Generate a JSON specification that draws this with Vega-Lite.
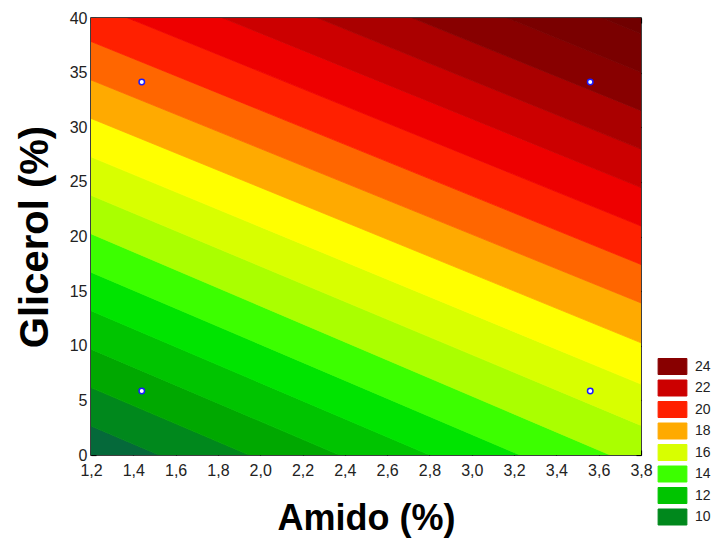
{
  "$schema": "https://vega.github.io/schema/vega-lite/v6.json",
  "width": 550,
  "height": 437,
  "autosize": {"type": "none"},
  "padding": {"left": 91, "top": 18, "right": 77, "bottom": 86},
  "background": "white",
  "config": {
    "view": {"stroke": "#000", "strokeWidth": 1.5},
    "font": "Liberation Sans",
    "axis": {
      "grid": false,
      "domain": false,
      "tickColor": "#000",
      "tickSize": -5,
      "tickWidth": 1.2,
      "labelFont": "Liberation Sans",
      "labelFontSize": 16,
      "labelColor": "#222",
      "titleFont": "Liberation Sans",
      "titleFontWeight": "bold",
      "titleColor": "#000"
    }
  },
  "datasets": {
    "bands": [
      {"level": 9, "x": 1.2, "lo": -0.87, "hi": 2.65}, {"level": 9, "x": 3.8, "lo": -22.32, "hi": -18.8},
      {"level": 10, "x": 1.2, "lo": 2.65, "hi": 6.17}, {"level": 10, "x": 3.8, "lo": -18.8, "hi": -15.28},
      {"level": 11, "x": 1.2, "lo": 6.17, "hi": 9.69}, {"level": 11, "x": 3.8, "lo": -15.28, "hi": -11.76},
      {"level": 12, "x": 1.2, "lo": 9.69, "hi": 13.21}, {"level": 12, "x": 3.8, "lo": -11.76, "hi": -8.24},
      {"level": 13, "x": 1.2, "lo": 13.21, "hi": 16.73}, {"level": 13, "x": 3.8, "lo": -8.24, "hi": -4.72},
      {"level": 14, "x": 1.2, "lo": 16.73, "hi": 20.25}, {"level": 14, "x": 3.8, "lo": -4.72, "hi": -1.2},
      {"level": 15, "x": 1.2, "lo": 20.25, "hi": 23.77}, {"level": 15, "x": 3.8, "lo": -1.2, "hi": 2.71},
      {"level": 16, "x": 1.2, "lo": 23.77, "hi": 27.29}, {"level": 16, "x": 3.8, "lo": 2.71, "hi": 6.49},
      {"level": 17, "x": 1.2, "lo": 27.29, "hi": 30.81}, {"level": 17, "x": 3.8, "lo": 6.49, "hi": 10.27},
      {"level": 18, "x": 1.2, "lo": 30.81, "hi": 34.33}, {"level": 18, "x": 3.8, "lo": 10.27, "hi": 13.92},
      {"level": 19, "x": 1.2, "lo": 34.33, "hi": 37.85}, {"level": 19, "x": 3.8, "lo": 13.92, "hi": 17.44},
      {"level": 20, "x": 1.2, "lo": 37.85, "hi": 41.37}, {"level": 20, "x": 3.8, "lo": 17.44, "hi": 20.96},
      {"level": 21, "x": 1.2, "lo": 41.37, "hi": 44.89}, {"level": 21, "x": 3.8, "lo": 20.96, "hi": 24.48},
      {"level": 22, "x": 1.2, "lo": 44.89, "hi": 48.41}, {"level": 22, "x": 3.8, "lo": 24.48, "hi": 28.0},
      {"level": 23, "x": 1.2, "lo": 48.41, "hi": 51.93}, {"level": 23, "x": 3.8, "lo": 28.0, "hi": 31.52},
      {"level": 24, "x": 1.2, "lo": 51.93, "hi": 55.45}, {"level": 24, "x": 3.8, "lo": 31.52, "hi": 35.04},
      {"level": 25, "x": 1.2, "lo": 55.45, "hi": 58.97}, {"level": 25, "x": 3.8, "lo": 35.04, "hi": 38.56},
      {"level": 26, "x": 1.2, "lo": 58.97, "hi": 62.49}, {"level": 26, "x": 3.8, "lo": 38.56, "hi": 42.08}
    ],
    "points": [
      {"amido": 1.44, "glicerol": 5.86},
      {"amido": 1.44, "glicerol": 34.14},
      {"amido": 3.56, "glicerol": 5.86},
      {"amido": 3.56, "glicerol": 34.14}
    ]
  },
  "layer": [
    {
      "data": {"name": "bands"},
      "mark": {"type": "area", "clip": true, "strokeWidth": 0.8, "opacity": 1},
      "encoding": {
        "x": {
          "field": "x", "type": "quantitative",
          "scale": {"domain": [1.2, 3.8], "nice": false, "zero": false},
          "axis": {
            "orient": "bottom", "values": [1.2, 1.4, 1.6, 1.8, 2.0, 2.2, 2.4, 2.6, 2.8, 3.0, 3.2, 3.4, 3.6, 3.8],
            "labelExpr": "replace(format(datum.value, '.1f'), '.', ',')",
            "labelPadding": 12, "title": "Amido (%)", "titleFontSize": 36, "titlePadding": 23, "labelFlush": false
          }
        },
        "y": {
          "field": "lo", "type": "quantitative",
          "scale": {"domain": [0, 40], "nice": false, "zero": false},
          "axis": {
            "orient": "left", "values": [0, 5, 10, 15, 20, 25, 30, 35, 40],
            "labelPadding": 9, "title": "Glicerol (%)", "titleFontSize": 40, "titlePadding": 14, "labelFlush": false
          }
        },
        "y2": {"field": "hi"},
        "color": {
          "field": "level", "type": "ordinal",
          "scale": {
            "domain": [26, 25, 24, 23, 22, 21, 20, 19, 18, 17, 16, 15, 14, 13, 12, 11, 10, 9],
            "range": ["#700000", "#7a0000", "#880000", "#aa0000", "#cc0000", "#ee0000", "#ff2000", "#ff6600", "#ffaa00", "#ffff00", "#d8ff00", "#aaff00", "#3cff00", "#00e400", "#00c400", "#00a800", "#00881c", "#05693a"]
          },
          "legend": {
            "orient": "none", "legendX": 573, "legendY": 340,
            "values": [24, 22, 20, 18, 16, 14, 12, 10],
            "title": null,
            "symbolType": "M-1.8,-1H1.8V1H-1.8Z",
            "symbolSize": 256,
            "symbolStrokeColor": "#000",
            "symbolStrokeWidth": 1,
            "symbolOpacity": 1,
            "labelFont": "Liberation Sans",
            "labelFontSize": 14,
            "labelColor": "#222",
            "labelOffset": 14,
            "rowPadding": 0.5
          }
        },
        "stroke": {
          "field": "level", "type": "ordinal",
          "scale": {
            "domain": [26, 25, 24, 23, 22, 21, 20, 19, 18, 17, 16, 15, 14, 13, 12, 11, 10, 9],
            "range": ["#700000", "#7a0000", "#880000", "#aa0000", "#cc0000", "#ee0000", "#ff2000", "#ff6600", "#ffaa00", "#ffff00", "#d8ff00", "#aaff00", "#3cff00", "#00e400", "#00c400", "#00a800", "#00881c", "#05693a"]
          },
          "legend": null
        }
      }
    },
    {
      "data": {"name": "points"},
      "mark": {"type": "point", "filled": true, "fill": "#ffffff", "stroke": "#1a1aff", "strokeWidth": 1.5, "size": 30, "opacity": 1},
      "encoding": {
        "x": {
          "field": "amido", "type": "quantitative",
          "axis": {"orient": "top", "values": [1.2, 1.4, 1.6, 1.8, 2.0, 2.2, 2.4, 2.6, 2.8, 3.0, 3.2, 3.4, 3.6, 3.8], "labels": false, "title": null}
        },
        "y": {
          "field": "glicerol", "type": "quantitative",
          "axis": {"orient": "right", "values": [0, 5, 10, 15, 20, 25, 30, 35, 40], "labels": false, "title": null}
        }
      }
    }
  ],
  "resolve": {"axis": {"x": "independent", "y": "independent"}}
}
